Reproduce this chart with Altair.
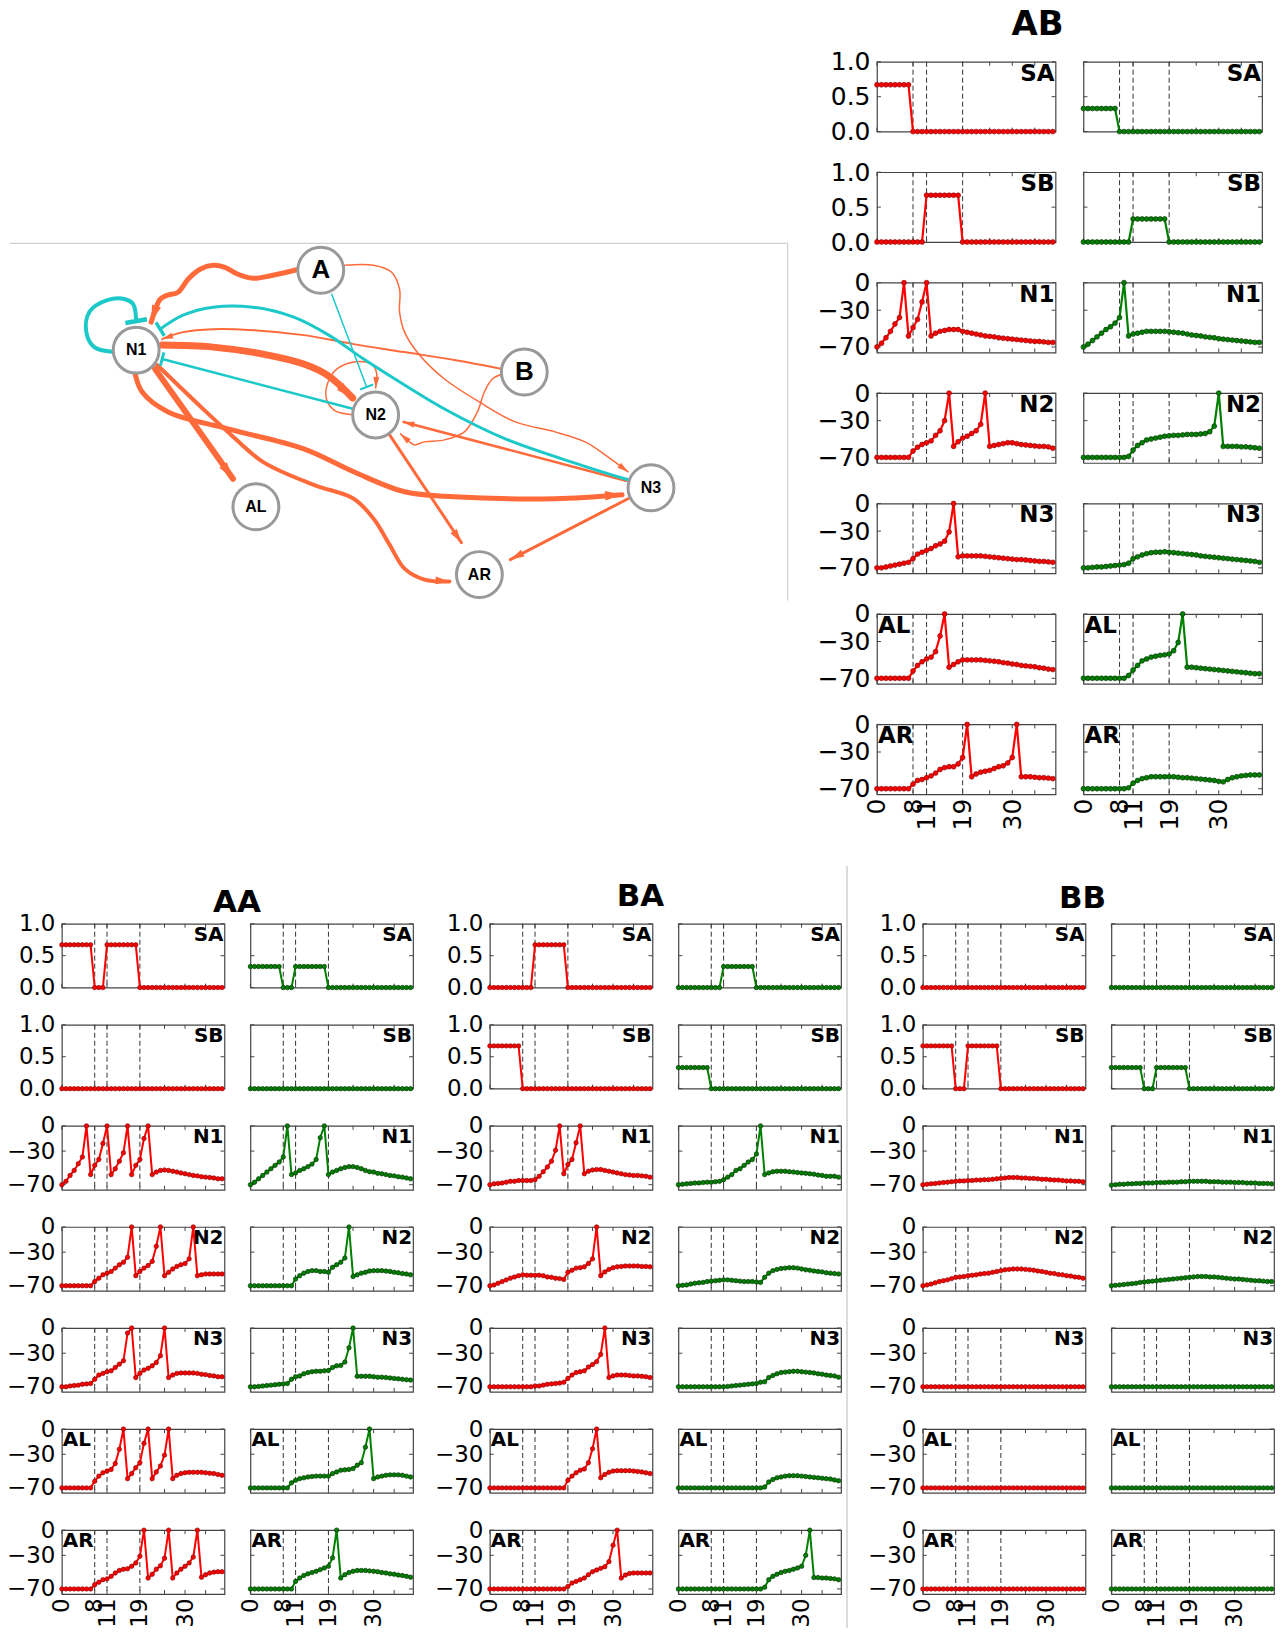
import math
import altair as alt
import pandas as pd

# ---------------------------------------------------------------- axes / layout constants
T_MAX = 39.6
dash_times = [8, 11, 19]
x_tick_values = [0, 8, 11, 19, 30]
frame_tick_times = [0, 8, 11, 19, 25, 30, 35]
stim_ticks = [0, 0.5, 1.0]
volt_ticks = [-70, -30, 0]
neurons = ["SA", "SB", "N1", "N2", "N3", "AL", "AR"]
groups = ["AB", "AA", "BA", "BB"]

# ---------------------------------------------------------------- stimulus traces (t = 0..39)
AB_SA_red = [0.67, 0.67, 0.67, 0.67, 0.67, 0.67, 0.67, 0.67, 0, 0,
             0, 0, 0, 0, 0, 0, 0, 0, 0, 0,
             0, 0, 0, 0, 0, 0, 0, 0, 0, 0,
             0, 0, 0, 0, 0, 0, 0, 0, 0, 0]
AB_SA_green = [0.33, 0.33, 0.33, 0.33, 0.33, 0.33, 0.33, 0.33, 0, 0,
               0, 0, 0, 0, 0, 0, 0, 0, 0, 0,
               0, 0, 0, 0, 0, 0, 0, 0, 0, 0,
               0, 0, 0, 0, 0, 0, 0, 0, 0, 0]
AB_SB_red = [0, 0, 0, 0, 0, 0, 0, 0, 0, 0,
             0, 0.67, 0.67, 0.67, 0.67, 0.67, 0.67, 0.67, 0.67, 0,
             0, 0, 0, 0, 0, 0, 0, 0, 0, 0,
             0, 0, 0, 0, 0, 0, 0, 0, 0, 0]
AB_SB_green = [0, 0, 0, 0, 0, 0, 0, 0, 0, 0,
               0, 0.33, 0.33, 0.33, 0.33, 0.33, 0.33, 0.33, 0.33, 0,
               0, 0, 0, 0, 0, 0, 0, 0, 0, 0,
               0, 0, 0, 0, 0, 0, 0, 0, 0, 0]
AA_SA_red = [0.67, 0.67, 0.67, 0.67, 0.67, 0.67, 0.67, 0.67, 0, 0,
             0, 0.67, 0.67, 0.67, 0.67, 0.67, 0.67, 0.67, 0.67, 0,
             0, 0, 0, 0, 0, 0, 0, 0, 0, 0,
             0, 0, 0, 0, 0, 0, 0, 0, 0, 0]
AA_SA_green = [0.33, 0.33, 0.33, 0.33, 0.33, 0.33, 0.33, 0.33, 0, 0,
               0, 0.33, 0.33, 0.33, 0.33, 0.33, 0.33, 0.33, 0.33, 0,
               0, 0, 0, 0, 0, 0, 0, 0, 0, 0,
               0, 0, 0, 0, 0, 0, 0, 0, 0, 0]
AA_SB_red = [0, 0, 0, 0, 0, 0, 0, 0, 0, 0,
             0, 0, 0, 0, 0, 0, 0, 0, 0, 0,
             0, 0, 0, 0, 0, 0, 0, 0, 0, 0,
             0, 0, 0, 0, 0, 0, 0, 0, 0, 0]
AA_SB_green = [0, 0, 0, 0, 0, 0, 0, 0, 0, 0,
               0, 0, 0, 0, 0, 0, 0, 0, 0, 0,
               0, 0, 0, 0, 0, 0, 0, 0, 0, 0,
               0, 0, 0, 0, 0, 0, 0, 0, 0, 0]
BA_SA_red = [0, 0, 0, 0, 0, 0, 0, 0, 0, 0,
             0, 0.67, 0.67, 0.67, 0.67, 0.67, 0.67, 0.67, 0.67, 0,
             0, 0, 0, 0, 0, 0, 0, 0, 0, 0,
             0, 0, 0, 0, 0, 0, 0, 0, 0, 0]
BA_SA_green = [0, 0, 0, 0, 0, 0, 0, 0, 0, 0,
               0, 0.33, 0.33, 0.33, 0.33, 0.33, 0.33, 0.33, 0.33, 0,
               0, 0, 0, 0, 0, 0, 0, 0, 0, 0,
               0, 0, 0, 0, 0, 0, 0, 0, 0, 0]
BA_SB_red = [0.67, 0.67, 0.67, 0.67, 0.67, 0.67, 0.67, 0.67, 0, 0,
             0, 0, 0, 0, 0, 0, 0, 0, 0, 0,
             0, 0, 0, 0, 0, 0, 0, 0, 0, 0,
             0, 0, 0, 0, 0, 0, 0, 0, 0, 0]
BA_SB_green = [0.33, 0.33, 0.33, 0.33, 0.33, 0.33, 0.33, 0.33, 0, 0,
               0, 0, 0, 0, 0, 0, 0, 0, 0, 0,
               0, 0, 0, 0, 0, 0, 0, 0, 0, 0,
               0, 0, 0, 0, 0, 0, 0, 0, 0, 0]
BB_SA_red = [0, 0, 0, 0, 0, 0, 0, 0, 0, 0,
             0, 0, 0, 0, 0, 0, 0, 0, 0, 0,
             0, 0, 0, 0, 0, 0, 0, 0, 0, 0,
             0, 0, 0, 0, 0, 0, 0, 0, 0, 0]
BB_SA_green = [0, 0, 0, 0, 0, 0, 0, 0, 0, 0,
               0, 0, 0, 0, 0, 0, 0, 0, 0, 0,
               0, 0, 0, 0, 0, 0, 0, 0, 0, 0,
               0, 0, 0, 0, 0, 0, 0, 0, 0, 0]
BB_SB_red = [0.67, 0.67, 0.67, 0.67, 0.67, 0.67, 0.67, 0.67, 0, 0,
             0, 0.67, 0.67, 0.67, 0.67, 0.67, 0.67, 0.67, 0.67, 0,
             0, 0, 0, 0, 0, 0, 0, 0, 0, 0,
             0, 0, 0, 0, 0, 0, 0, 0, 0, 0]
BB_SB_green = [0.33, 0.33, 0.33, 0.33, 0.33, 0.33, 0.33, 0.33, 0, 0,
               0, 0.33, 0.33, 0.33, 0.33, 0.33, 0.33, 0.33, 0.33, 0,
               0, 0, 0, 0, 0, 0, 0, 0, 0, 0,
               0, 0, 0, 0, 0, 0, 0, 0, 0, 0]

# ---------------------------------------------------------------- membrane traces (mV, t = 0..39)
AB_N1_red = [-70, -66, -60, -53, -45, -38, 0, -58, -49, -40,
             -21, 0, -58, -55, -53, -52, -51, -51, -51, -53,
             -54, -55, -56, -57, -58, -58.5, -59, -60, -60.5, -61,
             -61.5, -62, -62.5, -63, -63.5, -64, -64, -64.5, -65, -65]
AB_N1_green = [-70, -67, -63, -59, -55, -51, -48, -44, -38, 0,
               -58, -56, -55, -54, -53, -53, -53, -53, -53, -53.5,
               -54, -54.5, -55, -56, -57, -57.5, -58, -59, -59.5, -60,
               -61, -61.5, -62, -62.5, -63, -63.5, -64, -64.5, -65, -65]
AB_N2_red = [-70, -70, -70, -70, -70, -70, -70, -70, -63, -59,
             -56, -54, -52, -46, -41, -30, 0, -58, -53, -49,
             -47, -44, -41, -34, 0, -58, -57, -56, -55, -54,
             -54, -55, -56, -56.5, -57, -57.5, -58, -58, -58.5, -60]
AB_N2_green = [-70, -70, -70, -70, -70, -70, -70, -70, -70, -70,
               -69, -62, -57, -54, -51, -50, -49, -48, -47, -46.5,
               -46, -46, -45.5, -45, -45, -45, -44.5, -44, -42, -36,
               0, -58, -58, -58, -58, -58.5, -58.5, -59, -59.5, -60]
AB_N3_red = [-70, -70, -69, -68, -67, -66, -65, -64, -60, -55,
             -53, -51, -49, -46, -44, -41, -31, 0, -58, -57,
             -57, -57, -57, -57, -57.5, -58, -58.5, -59, -59.5, -60,
             -60.5, -61, -61, -61.5, -62, -62.5, -63, -63, -63.5, -64]
AB_N3_green = [-70, -70, -69.5, -69, -69, -68.5, -68, -67.5, -67, -66.5,
               -65, -60, -58, -56, -54.5, -53.5, -53, -53, -52.5, -53,
               -53.5, -54, -54.5, -55, -55.5, -56, -57, -57.5, -58, -58.5,
               -59, -59.5, -60, -60.5, -61, -61.5, -62, -62.5, -63, -64]
AB_AL_red = [-70, -70, -70, -70, -70, -70, -70, -70, -62, -56,
             -52, -49, -47, -41, -24, 0, -58, -55, -52, -50,
             -50, -50, -50, -50, -50.5, -51, -51.5, -52, -53, -53.5,
             -54.5, -55, -56, -56.5, -57, -57.5, -58.5, -59, -60, -60.5]
AB_AL_green = [-70, -70, -70, -70, -70, -70, -70, -70, -70, -70,
               -67, -61, -56, -51, -49, -47, -46, -45, -44.5, -43.5,
               -40, -31, 0, -58, -58, -58.5, -59, -59.5, -60, -60.5,
               -61, -61.5, -62, -62.5, -63, -63.5, -64, -64.5, -65, -65]
AB_AR_red = [-70, -70, -70, -70, -70, -70, -70, -70, -65, -61,
             -60, -58, -56, -53, -49, -47, -46, -46, -43, -36,
             0, -57, -54, -52, -51, -50, -48, -46, -45, -42,
             -36, 0, -57, -57, -57, -57.5, -58, -58, -58.5, -59]
AB_AR_green = [-70, -70, -70, -70, -70, -70, -70, -70, -70, -70,
               -69, -64, -61, -59, -58, -57, -57, -57, -57, -57,
               -57, -57.5, -58, -58, -58.5, -59, -59.5, -60, -60.5, -61,
               -62, -62.5, -60, -58, -57, -56, -55.5, -55, -55, -55]

AA_N1_red = [-70, -66, -59, -53, -45, -37, 0, -58, -47, -40,
             -21, 0, -58, -51, -42, -32, 0, -58, -47, -40,
             -15, 0, -58, -55, -53, -52.5, -53, -54, -55, -56,
             -57, -58, -59, -59.5, -60.5, -61, -61.5, -62, -63, -63]
AA_N1_green = [-70, -67, -63, -59, -55, -51, -47, -43, -37, 0,
               -58, -56, -53, -51, -48.5, -45.5, -40, -14, 0, -58,
               -55, -53, -51, -49.5, -48.5, -48.5, -49.5, -51, -53, -54.5,
               -55, -56.5, -57, -58, -59, -59.5, -60.5, -61, -62, -63]
AA_N2_red = [-70, -70, -70, -70, -70, -70, -70, -70, -65, -61,
             -57, -55, -53, -49, -45, -42, -36, 0, -58, -53,
             -49, -46, -41, -23, 0, -58, -54, -50, -47, -45,
             -43.5, -38, 0, -58, -57, -56, -56, -56, -56, -56]
AA_N2_green = [-70, -70, -70, -70, -70, -70, -70, -70, -70, -70,
               -70, -62, -58, -55, -53, -52, -52, -53, -53, -54,
               -48, -45, -42, -37, 0, -59, -57, -55, -54, -52.5,
               -52, -52, -52, -52.5, -53, -54, -54.5, -55.5, -56, -57]
AA_N3_red = [-70, -70, -69, -68.5, -68, -67, -66.5, -66, -61, -56,
             -54, -52, -51, -47, -43, -39, -6, 0, -59, -54,
             -50, -48, -45, -41, -33, 0, -59, -56, -54, -53.5,
             -53.5, -53.5, -53.5, -54, -55, -55.5, -56.5, -57, -58, -58]
AA_N3_green = [-70, -70, -69.5, -69, -68.5, -68, -67.5, -67, -66.5, -66,
               -61, -58, -57, -54.5, -53, -52, -51.5, -51.5, -51, -50.5,
               -47, -45, -44.5, -40.5, -23.5, 0, -57.5, -57.5, -57.5, -57.5,
               -58, -58.5, -58.5, -59, -59.5, -60, -60.5, -61, -61.5, -62]
AA_AL_red = [-70, -70, -70, -70, -70, -70, -70, -70, -62, -56,
             -52, -50, -48, -41, -24, 0, -59, -53, -46, -40,
             -17, 0, -59, -51, -44, -31, 0, -59, -55, -53,
             -52, -51.5, -51.5, -51.5, -51.5, -52, -52.5, -53, -54, -55]
AA_AL_green = [-70, -70, -70, -70, -70, -70, -70, -70, -70, -70,
               -64, -61, -59, -58, -57, -56.5, -56, -56, -56, -56,
               -53, -51, -49, -48.5, -48, -47, -43, -40, -21.5, 0,
               -59, -57, -56, -55, -54.5, -54.5, -54.5, -55, -56, -57]
AA_AR_red = [-70, -70, -70, -70, -70, -70, -70, -70, -65, -62,
             -59, -58, -55, -51, -48, -46.5, -46, -43, -39, -31,
             0, -57, -52.5, -46.5, -42.5, -33.5, 0, -57, -51, -46.5,
             -43, -39, -32, 0, -56, -53, -51, -50, -49.5, -49.5]
AA_AR_green = [-70, -70, -70, -70, -70, -70, -70, -70, -70, -70,
               -70, -61, -57, -54, -52, -50.5, -49, -47, -45, -43,
               -33, 0, -57, -53, -50.5, -49, -48, -48, -48, -48.5,
               -49, -49.5, -50.5, -51, -52, -52.5, -53.5, -54, -55, -56]

BA_N1_red = [-70, -69, -68.5, -68, -67, -66, -66, -65, -65, -65,
             -65, -64, -60, -54.5, -49, -42, -29, 0, -57, -46,
             -40, -20, 0, -57, -54, -52.5, -52, -52, -53, -54,
             -55, -56, -57, -58, -58.5, -59, -59, -59.5, -60, -61]
BA_N1_green = [-70, -69.5, -69, -68.5, -68, -68, -67.5, -67, -67, -66.5,
               -66, -64, -61, -58, -53, -51, -47, -43, -40, -33.5,
               0, -58, -56, -54.5, -54, -54, -54, -54.5, -55, -55.5,
               -56, -56.5, -57, -57.5, -58.5, -59, -60, -60, -60, -61]
BA_N2_red = [-70, -69, -67, -65, -63, -61, -59.5, -58, -57, -57.5,
             -57.5, -57.5, -57.5, -58, -59.5, -60, -61, -61.5, -62.5, -54,
             -51.5, -49, -48.5, -47.5, -43.5, -38, 0, -58, -53.5, -50.5,
             -48.5, -47.5, -47, -46.5, -46.5, -46.5, -46.5, -47, -47, -47.5]
BA_N2_green = [-70, -69.5, -69, -68, -67, -66.5, -66, -65, -64.5, -64,
               -63.5, -63, -63, -63.5, -64, -64.5, -65, -65, -65, -65.5,
               -66, -60, -55, -52, -50.5, -49.5, -49, -48.5, -48.5, -49,
               -50, -51, -51.5, -52.5, -53, -53.5, -54.5, -55, -55.5, -56]
BA_N3_red = [-70, -70, -70, -70, -70, -70, -70, -70, -70, -70,
             -70, -69, -69, -68, -67, -66.5, -66, -65.5, -64.5, -60,
             -56, -53, -52, -51, -46.5, -43.5, -40, -31.5, 0, -59,
             -57, -56, -56, -56, -56.5, -57, -57, -57.5, -58, -59]
BA_N3_green = [-70, -70, -70, -70, -70, -70, -70, -70, -70, -70,
               -70, -70, -69.5, -69, -68.5, -68, -67.5, -67, -66.5, -66,
               -64.5, -64, -59, -56.5, -54.5, -53, -52.5, -52, -51.5, -51.5,
               -52, -52.5, -53, -53.5, -54.5, -55, -56, -56.5, -57, -58.5]
BA_AL_red = [-70, -70, -70, -70, -70, -70, -70, -70, -70, -70,
             -70, -70, -70, -70, -70, -70, -70, -70, -70, -61,
             -56, -52, -49, -47.5, -40, -23.5, 0, -58, -54, -51.5,
             -50, -49.5, -49.5, -49.5, -49.5, -50, -50.5, -51, -52, -53]
BA_AL_green = [-70, -70, -70, -70, -70, -70, -70, -70, -70, -70,
               -70, -70, -70, -70, -70, -70, -70, -70, -70, -70,
               -70, -69, -63, -60, -58, -57, -56, -55.5, -55.5, -55.5,
               -56, -56.5, -57, -57.5, -58, -58.5, -59, -59.5, -60.5, -61.5]
BA_AR_red = [-70, -70, -70, -70, -70, -70, -70, -70, -70, -70,
             -70, -70, -70, -70, -70, -70, -70, -70, -70, -67,
             -63, -61, -59, -57, -53, -49.5, -47.5, -45.5, -43.5, -37.5,
             -18, 0, -57, -53.5, -51.5, -51, -51, -51, -51, -51]
BA_AR_green = [-70, -70, -70, -70, -70, -70, -70, -70, -70, -70,
               -70, -70, -70, -70, -70, -70, -70, -70, -70, -70,
               -70, -68, -59, -55, -52.5, -50.5, -49, -48, -46.5, -45,
               -43, -30, 0, -56.5, -56.5, -57, -57, -57.5, -58, -59]

BB_N1_red = [-70, -69.5, -69, -68.5, -68, -67.5, -67, -66.5, -66, -65.5,
             -65.5, -65, -65, -64.5, -64.5, -64, -64, -63.5, -63, -62.5,
             -62, -61.5, -61.5, -61.5, -62, -62, -62.5, -62.5, -63, -63.5,
             -63.5, -64, -64.5, -64.5, -65, -65.5, -65.5, -66, -66, -66.5]
BB_N1_green = [-70.5, -70, -69.5, -69.5, -69, -69, -68.5, -68.5, -68, -68,
               -68, -67.5, -67.5, -67.5, -67, -67, -67, -66.5, -66.5, -66,
               -66, -66, -66, -66, -66.5, -66.5, -66.5, -67, -67, -67,
               -67.5, -67.5, -67.5, -68, -68, -68, -68.5, -68.5, -68.5, -69]
BB_N2_red = [-70, -69, -68, -66.5, -65, -64, -63, -61.5, -60, -59.5,
             -59, -58, -57.5, -57, -56, -55.5, -55, -54, -53, -52,
             -51, -50.5, -50, -50, -50, -50.5, -51, -51.5, -52.5, -53,
             -54, -55, -55.5, -56.5, -57, -58, -58.5, -59.5, -60, -61]
BB_N2_green = [-70, -69.5, -69, -68.5, -68, -67.5, -67, -66, -65.5, -65,
               -64.5, -64, -63.5, -63, -62.5, -62, -61.5, -61, -60.5, -60,
               -59.5, -59, -59, -59, -59.5, -59.5, -60, -60.5, -61, -61.5,
               -62, -62, -62.5, -63, -63.5, -64, -64, -64.5, -65, -65]
BB_N3_red = [-70, -70, -70, -70, -70, -70, -70, -70, -70, -70,
             -70, -70, -70, -70, -70, -70, -70, -70, -70, -70,
             -70, -70, -70, -70, -70, -70, -70, -70, -70, -70,
             -70, -70, -70, -70, -70, -70, -70, -70, -70, -70]
BB_N3_green = [-70, -70, -70, -70, -70, -70, -70, -70, -70, -70,
               -70, -70, -70, -70, -70, -70, -70, -70, -70, -70,
               -70, -70, -70, -70, -70, -70, -70, -70, -70, -70,
               -70, -70, -70, -70, -70, -70, -70, -70, -70, -70]
BB_AL_red = [-70, -70, -70, -70, -70, -70, -70, -70, -70, -70,
             -70, -70, -70, -70, -70, -70, -70, -70, -70, -70,
             -70, -70, -70, -70, -70, -70, -70, -70, -70, -70,
             -70, -70, -70, -70, -70, -70, -70, -70, -70, -70]
BB_AL_green = [-70, -70, -70, -70, -70, -70, -70, -70, -70, -70,
               -70, -70, -70, -70, -70, -70, -70, -70, -70, -70,
               -70, -70, -70, -70, -70, -70, -70, -70, -70, -70,
               -70, -70, -70, -70, -70, -70, -70, -70, -70, -70]
BB_AR_red = [-70, -70, -70, -70, -70, -70, -70, -70, -70, -70,
             -70, -70, -70, -70, -70, -70, -70, -70, -70, -70,
             -70, -70, -70, -70, -70, -70, -70, -70, -70, -70,
             -70, -70, -70, -70, -70, -70, -70, -70, -70, -70]
BB_AR_green = [-70, -70, -70, -70, -70, -70, -70, -70, -70, -70,
               -70, -70, -70, -70, -70, -70, -70, -70, -70, -70,
               -70, -70, -70, -70, -70, -70, -70, -70, -70, -70,
               -70, -70, -70, -70, -70, -70, -70, -70, -70, -70]

# ---------------------------------------------------------------- network diagram data (figure pixel coords)
node_names = ["A", "B", "N1", "N2", "N3", "AL", "AR"]
node_x = [320, 524, 135, 375, 651, 255, 479]
node_y = [268, 370, 348, 413, 486, 505, 573]
node_font = [26, 26, 16, 16, 16, 16, 16]

p_A_N1 = [(298, 267), (272, 273), (252, 276), (237, 272), (224, 265), (212, 263), (199, 267),
          (187, 277), (177, 290), (166, 293), (159, 297), (154, 308), (150, 320)]
p_A_N3 = [(344, 263), (373, 263), (391, 270), (399, 287), (399, 310), (404, 330), (419, 353),
          (444, 377), (479, 400), (515, 420), (555, 430), (585, 440), (605, 453), (628, 470)]
p_B_N1 = [(502, 367), (454, 358), (404, 350), (353, 342), (303, 333), (252, 328), (212, 327),
          (182, 330), (161, 337)]
p_B_N2 = [(502, 372), (492, 377), (484, 390), (477, 410), (464, 430), (444, 438), (424, 440),
          (414, 443), (409, 440), (400, 432)]
p_N1_N2 = [(161, 343), (212, 345), (262, 352), (303, 362), (328, 374), (352, 396)]
p_N2_N2 = [(353, 413), (333, 408), (325, 393), (333, 370), (353, 360), (371, 362), (376, 371), (375, 386)]
p_N1_AL = [(154, 367), (232, 477)]
p_N1_AR = [(156, 363), (202, 407), (227, 430), (262, 460), (313, 483), (353, 497), (373, 517),
           (389, 543), (404, 567), (424, 578), (449, 580)]
p_N1_N3 = [(134, 372), (141, 390), (167, 410), (227, 427), (303, 447), (353, 470), (404, 490),
           (454, 495), (555, 497), (622, 493)]
p_N2_AR = [(389, 433), (461, 541)]
p_N3_AR = [(628, 497), (510, 558)]
p_N3_N2 = [(626, 479), (403, 420)]
p_N1_N1 = [(114, 350), (93, 345), (85, 330), (88, 310), (106, 298), (124, 297), (132, 302), (135, 319)]
p_N3_N1 = [(628, 478), (580, 463), (505, 437), (444, 407), (404, 383), (363, 357), (328, 333),
           (293, 315), (252, 305), (212, 305), (182, 313), (159, 327)]
p_N2_N1 = [(353, 407), (161, 357)]
p_A_N2 = [(331, 292), (366, 385)]

edge_points = [p_A_N1, p_A_N3, p_B_N1, p_B_N2, p_N1_N2, p_N2_N2, p_N1_AL, p_N1_AR, p_N1_N3,
               p_N2_AR, p_N3_AR, p_N3_N2, p_N1_N1, p_N3_N1, p_N2_N1, p_A_N2]
edge_kind = ["exc", "exc", "exc", "exc", "exc", "exc", "exc", "exc", "exc",
             "exc", "exc", "exc", "inh", "inh", "inh", "inh"]
edge_width = [5, 1.5, 2, 1.5, 7, 1.5, 6, 4, 5, 3, 3, 2.5, 4, 3, 2.5, 1.5]
frame_x = [8, 788]
frame_y = [241, 241]
frame_x2 = [788, 788]
frame_y2 = [241, 599]

EXC = "#ff6a3a"
INH = "#1cc8c8"

# ---------------------------------------------------------------- layout (pixels)
X0 = 60.5          # left edge of the first plot column (page px)
Y0 = 59            # top edge of the first plot row (page px)
AB_W, AB_H, AB_COL, AB_ROW = 179, 70, 28, 40.7
BT_W, BT_H, BT_COL, BT_ROW = 163, 64, 26, 37.3
NET_W = 877 - AB_COL - X0
GAP1_W = 24.5
SEP_W = 30
TICK_LEN = 4

# group titles: (x relative to left panel, baseline y relative to top, font size)
title_pos = {"AB": (161, -27, 34), "AA": (175.5, -12, 31), "BA": (151, -18, 31),
             "BB": (160, -16, 31)}

SERIES = {}
for g in groups:
    for n in neurons:
        for c in ("red", "green"):
            SERIES[(g, n, c)] = globals()[f"{g}_{n}_{c}"]

STYLE = {"red": ("#ff0000", "#7a0000"), "green": ("#008000", "#002a00")}


def panel(g, n, c, w, h, tick_fs, lab_fs, show_y, show_x, lw, ms, with_title):
    vals = SERIES[(g, n, c)]
    df = pd.DataFrame({"t": list(range(len(vals))), "v": vals})
    stim = n in ("SA", "SB")
    yvals = stim_ticks if stim else volt_ticks
    xs = alt.Scale(domain=[0, T_MAX], nice=False, zero=False)
    ys = alt.Scale(domain=[0, 1] if stim else [-76, 0], nice=False, zero=False)
    if show_x:
        xax = alt.Axis(values=x_tick_values, labelAngle=270, labelFontSize=tick_fs, ticks=False,
                       domain=False, grid=False, title=None, labelPadding=4, labelFlush=False,
                       labelOverlap=False, labelBound=False, labelColor="black",
                       labelFont="DejaVu Sans")
        X = alt.X("t:Q", scale=xs, axis=xax)
    else:
        X = alt.X("t:Q", scale=xs, axis=None)
    if show_y:
        yax = alt.Axis(values=yvals, format=".1f" if stim else "d",
                       labelFontSize=tick_fs, ticks=False, domain=False, grid=False, title=None,
                       labelPadding=7, labelFlush=False, labelOverlap=False, labelBound=False,
                       labelColor="black", labelFont="DejaVu Sans")
        Y = alt.Y("v:Q", scale=ys, axis=yax)
    else:
        Y = alt.Y("v:Q", scale=ys, axis=None)
    col, edge = STYLE[c]
    dash = alt.Chart(pd.DataFrame({"t": dash_times})).mark_rule(
        color="#333333", strokeDash=[5, 3], strokeWidth=1).encode(x=X)
    xt = pd.DataFrame({"t": frame_tick_times})
    yt = pd.DataFrame({"v": yvals})
    tick_style = dict(color="#444444", strokeWidth=1)
    t_top = alt.Chart(xt).mark_rule(**tick_style).encode(
        x=X, y=alt.value(0), y2=alt.value(TICK_LEN))
    t_bot = alt.Chart(xt).mark_rule(**tick_style).encode(
        x=X, y=alt.value(h - TICK_LEN), y2=alt.value(h))
    t_left = alt.Chart(yt).mark_rule(**tick_style).encode(
        y=Y, x=alt.value(0), x2=alt.value(TICK_LEN))
    t_right = alt.Chart(yt).mark_rule(**tick_style).encode(
        y=Y, x=alt.value(w - TICK_LEN), x2=alt.value(w))
    line = alt.Chart(df).mark_line(color=col, strokeWidth=lw).encode(x=X, y=Y)
    pts = alt.Chart(df).mark_point(filled=True, fill=col, stroke=edge, strokeWidth=0.6,
                                   size=ms, opacity=1, fillOpacity=1).encode(x=X, y=Y)
    left_label = n in ("AL", "AR")
    lab = alt.Chart(pd.DataFrame({"lab": [n]})).mark_text(
        align="left" if left_label else "right", baseline="top", fontSize=lab_fs,
        fontWeight="bold", font="DejaVu Sans", color="black").encode(
        text="lab:N", x=alt.value(1 if left_label else w - 1), y=alt.value(1))
    layers = [dash, t_top, t_bot, t_left, t_right, line, pts, lab]
    if with_title:
        tx, ty, tfs = title_pos[g]
        ttl = alt.Chart(pd.DataFrame({"g": [g]})).mark_text(
            align="center", baseline="alphabetic", fontSize=tfs, fontWeight="bold",
            font="DejaVu Sans", color="black").encode(
            text="g:N", x=alt.value(tx), y=alt.value(ty))
        layers.append(ttl)
    return alt.layer(*layers).properties(width=w, height=h)


def spacer(w, h):
    return alt.Chart(pd.DataFrame({"v": [0]})).mark_point(opacity=0).encode(
        x=alt.value(0), y=alt.value(0)).properties(
        width=w, height=h, view=alt.ViewBackground(stroke="transparent"))


# ---------------------------------------------------------------- network chart
NX = alt.Scale(domain=[X0, X0 + NET_W], nice=False, zero=False)
NY = alt.Scale(domain=[Y0, Y0 + AB_H], nice=False, zero=False, reverse=True)

edge_rows, head_rows, bar_rows = [], [], []
for k, pts_ in enumerate(edge_points):
    colr = EXC if edge_kind[k] == "exc" else INH
    for s, (px, py) in enumerate(pts_):
        edge_rows.append({"e": k, "seq": s, "x": px, "y": py, "c": colr, "w": edge_width[k]})
    (qx, qy), (tx_, ty_) = pts_[-2], pts_[-1]
    dx, dy = tx_ - qx, ty_ - qy
    L = math.hypot(dx, dy)
    ux, uy = dx / L, dy / L
    wv = edge_width[k]
    if edge_kind[k] == "exc":
        hl = 17 if wv >= 5 else (14 if wv >= 3 else 11)
        ang = (math.degrees(math.atan2(ux, -uy)) + 360) % 360
        head_rows.append({"x": tx_ - ux * hl / 2, "y": ty_ - uy * hl / 2, "a": ang,
                          "s": hl * hl, "c": colr})
    else:
        half = 11 if wv >= 4 else (8 if wv >= 3 else 7)
        bar_rows.append({"x": tx_ - uy * half, "y": ty_ + ux * half,
                         "x2": tx_ + uy * half, "y2": ty_ - ux * half, "c": colr, "w": wv + 0.5})

edges_df = pd.DataFrame(edge_rows)
heads_df = pd.DataFrame(head_rows)
bars_df = pd.DataFrame(bar_rows)
nodes_df = pd.DataFrame({"name": node_names, "x": node_x, "y": node_y, "fs": node_font})
frame_df = pd.DataFrame({"x": frame_x, "y": frame_y, "x2": frame_x2, "y2": frame_y2})

NXe = alt.X("x:Q", scale=NX, axis=None)
NYe = alt.Y("y:Q", scale=NY, axis=None)

frame_layer = alt.Chart(frame_df).mark_rule(color="#cfcfcf", strokeWidth=1.2).encode(
    x=NXe, y=NYe, x2="x2:Q", y2="y2:Q")
edge_layer = alt.Chart(edges_df).mark_line(interpolate="catmull-rom", strokeCap="round").encode(
    x=NXe, y=NYe, detail="e:N", order=alt.Order("seq:Q"),
    color=alt.Color("c:N", scale=None), strokeWidth=alt.StrokeWidth("w:Q", scale=None))
head_layer = alt.Chart(heads_df).mark_point(shape="M0,-1L0.55,1L-0.55,1Z", filled=True,
                                            opacity=1).encode(
    x=NXe, y=NYe, angle=alt.Angle("a:Q", scale=None), size=alt.Size("s:Q", scale=None),
    color=alt.Color("c:N", scale=None))
bar_layer = alt.Chart(bars_df).mark_rule().encode(
    x=NXe, y=NYe, x2="x2:Q", y2="y2:Q", color=alt.Color("c:N", scale=None),
    strokeWidth=alt.StrokeWidth("w:Q", scale=None))
node_layer = alt.Chart(nodes_df).mark_point(shape="circle", filled=False, fill="white",
                                            stroke="#999999", strokeWidth=3, size=2116,
                                            opacity=1, fillOpacity=1).encode(x=NXe, y=NYe)
name_layer = alt.Chart(nodes_df).mark_text(font="Liberation Sans", fontWeight="bold",
                                           color="black", align="center",
                                           baseline="middle").encode(
    x=NXe, y=NYe, text="name:N", size=alt.Size("fs:Q", scale=None))

network = alt.layer(frame_layer, edge_layer, head_layer, bar_layer, node_layer,
                    name_layer).properties(width=NET_W, height=AB_H,
                                           view=alt.ViewBackground(stroke="transparent"))

# ---------------------------------------------------------------- separator line
sep_top = [864 - 922]
sep_bottom = [1628 - 922]
separator = alt.Chart(pd.DataFrame({"y": sep_top, "y2": sep_bottom})).mark_rule(
    color="#d0d0d0", strokeWidth=1.5).encode(
    x=alt.value(847 - 867), y=alt.value(sep_top[0]), y2=alt.value(sep_bottom[0])).properties(
    width=SEP_W, height=BT_H, view=alt.ViewBackground(stroke="transparent"))

# ---------------------------------------------------------------- assemble grids
top_cells = []
for i, n in enumerate(neurons):
    last = i == len(neurons) - 1
    top_cells.append(network if i == 0 else spacer(1, 1))
    top_cells.append(panel("AB", n, "red", AB_W, AB_H, 25, 23, True, last, 2.2, 24, i == 0))
    top_cells.append(panel("AB", n, "green", AB_W, AB_H, 25, 23, False, last, 2.2, 24, False))
top = alt.concat(*top_cells, columns=3, spacing={"row": AB_ROW, "column": AB_COL},
                 bounds="flush", align="each")

bottom_cells = []
for i, n in enumerate(neurons):
    last = i == len(neurons) - 1
    first = i == 0
    for g in ("AA", "BA", "BB"):
        bottom_cells.append(panel(g, n, "red", BT_W, BT_H, 23, 20, True, last, 2.0, 20, first))
        bottom_cells.append(panel(g, n, "green", BT_W, BT_H, 23, 20, False, last, 2.0, 20, False))
        if g == "AA":
            bottom_cells.append(spacer(GAP1_W, 1))
        elif g == "BA":
            bottom_cells.append(separator if first else spacer(SEP_W, 1))
bottom = alt.concat(*bottom_cells, columns=8, spacing={"row": BT_ROW, "column": BT_COL},
                    bounds="flush", align="each")

chart = alt.vconcat(top, bottom, spacing=33).configure_view(
    stroke="#444444", strokeWidth=1.2).configure_axis(labelFont="DejaVu Sans")

chart.save("out.html", embed_options={"renderer": "svg", "actions": False})
